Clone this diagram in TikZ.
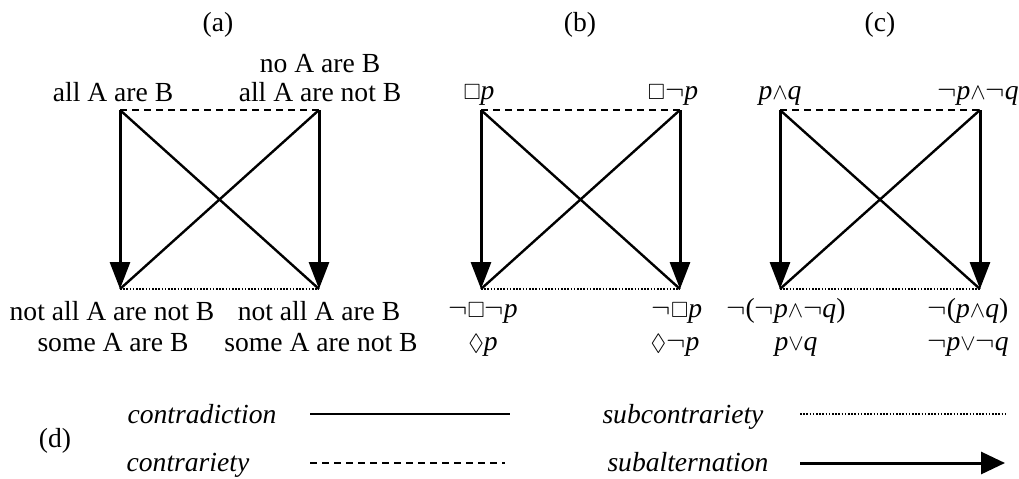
\documentclass[tikz,border=0pt]{standalone}
\usepackage{fontspec}
\usepackage{amssymb}
\usepackage{graphicx}
\setmainfont{Liberation Serif}
\usetikzlibrary{arrows.meta}
\newcommand{\bx}{\scalebox{0.8}{$\Box$}}
\newcommand{\lz}{\scalebox{0.85}{$\lozenge$}}
\newcommand{\wg}{\scalebox{0.8}{$\wedge$}}
\newcommand{\vg}{\scalebox{0.8}{$\vee$}}
\begin{document}
\begin{tikzpicture}[x=0.5pt,y=-0.5pt, font=\fontsize{13.8}{16}\selectfont,
 lbl/.style={inner sep=0pt, anchor=base},
 contra/.style={line width=1.2pt},
 contrar/.style={line width=1.4pt, dash pattern=on 3.5pt off 2.5pt},
 subcon/.style={line width=1.4pt, dash pattern=on 0.8pt off 0.8pt},
 subalt/.style={line width=1.5pt, -{Triangle[length=13.5pt,width=10pt]}},
]
\useasboundingbox (0,0) rectangle (1019,478);
% titles
\node[lbl] (ta) at (218,31) {(a)};
\node[lbl] (tb) at (580,31) {(b)};
\node[lbl] (tc) at (880,31) {(c)};
\node[lbl] (td) at (55,447) {(d)};
% corners
\foreach \p/\l/\r in {a/120/319, b/481/680, c/780/980}{
  \coordinate (\p TL) at (\l,110);
  \coordinate (\p TR) at (\r,110);
  \coordinate (\p BL) at (\l,289);
  \coordinate (\p BR) at (\r,289);
  \draw[contrar] (\p TL) -- (\p TR);
  \draw[subcon] (\p BL) -- (\p BR);
  \draw[contra] (\p TL) -- (\p BR);
  \draw[contra] (\p TR) -- (\p BL);
  \draw[subalt] (\p TL) -- (\p BL);
  \draw[subalt] (\p TR) -- (\p BR);
}
% panel (a) labels
\node[lbl] (a1) at (113,101) {all A are B};
\node[lbl] (a2a) at (320,72) {no A are B};
\node[lbl] (a2b) at (320,101) {all A are not B};
\node[lbl] (a3a) at (112,320) {not all A are not B};
\node[lbl] (a3b) at (113,351) {some A are B};
\node[lbl] (a4a) at (319,320) {not all A are B};
\node[lbl] (a4b) at (321,351) {some A are not B};
% panel (b) labels
\node[lbl] (b1) at (479,99) {\bx\textit{p}};
\node[lbl] (b2) at (673,99) {\bx$\neg$\textit{p}};
\node[lbl] (b3a) at (483,317) {$\neg$\bx$\neg$\textit{p}};
\node[lbl] (b3b) at (483,350) {\lz\textit{p}};
\node[lbl] (b4a) at (677,317) {$\neg$\bx\textit{p}};
\node[lbl] (b4b) at (675,350) {\lz$\neg$\textit{p}};
% panel (c) labels
\node[lbl] (c1) at (780,99) {\textit{p}\wg\textit{q}};
\node[lbl] (c2) at (978,99) {$\neg$\textit{p}\wg$\neg$\textit{q}};
\node[lbl] (c3a) at (786,317) {$\neg$($\neg$\textit{p}\wg$\neg$\textit{q})};
\node[lbl] (c3b) at (796,350) {\textit{p}\vg\textit{q}};
\node[lbl] (c4a) at (968,317) {$\neg$(\textit{p}\wg\textit{q})};
\node[lbl] (c4b) at (968,350) {$\neg$\textit{p}\vg$\neg$\textit{q}};
% legend
\node[lbl] (l1) at (202,423) {\textit{contradiction}};
\node[lbl] (l2) at (188,471) {\textit{contrariety}};
\node[lbl] (l3) at (683,423) {\textit{subcontrariety}};
\node[lbl] (l4) at (688,471) {\textit{subalternation}};
\coordinate (s1) at (310,414); \coordinate (e1) at (510,414);
\coordinate (s2) at (310,463); \coordinate (e2) at (505,463);
\coordinate (s3) at (800,414); \coordinate (e3) at (1005,414);
\coordinate (s4) at (800,463); \coordinate (e4) at (1005,463);
\draw[contra] (s1) -- (e1);
\draw[contrar] (s2) -- (e2);
\draw[subcon] (s3) -- (e3);
\draw[line width=1.5pt, -{Triangle[length=12pt,width=11pt]}] (s4) -- (e4);
\end{tikzpicture}
\end{document}
